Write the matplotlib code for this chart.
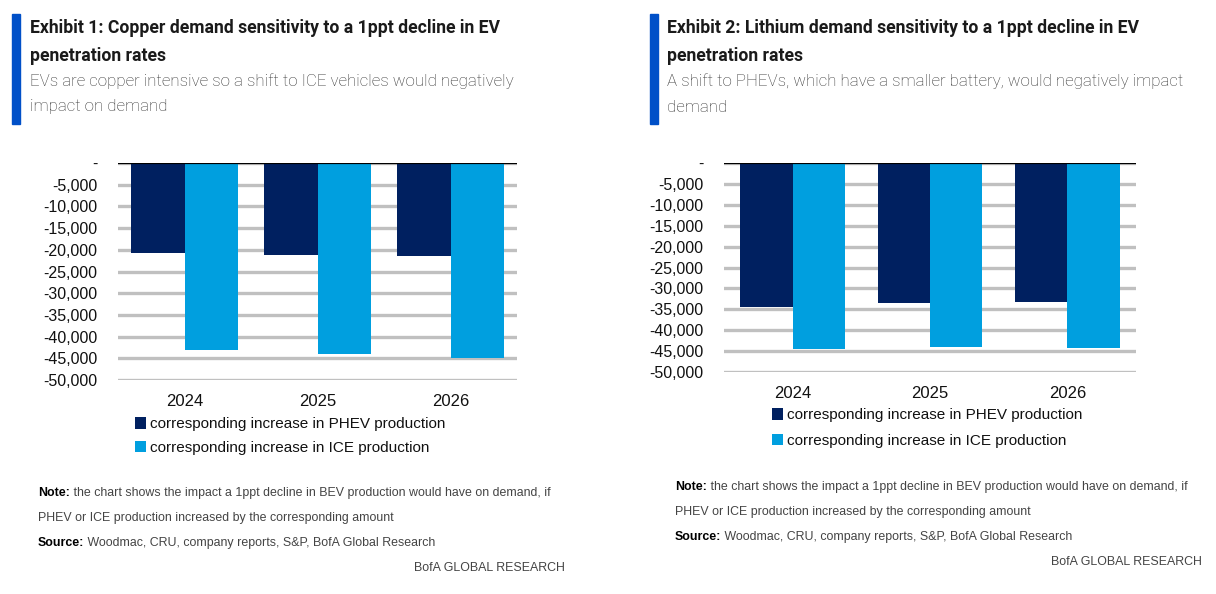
import matplotlib
matplotlib.use('Agg')
import matplotlib.pyplot as plt
from matplotlib.ticker import FuncFormatter
from matplotlib.patches import Rectangle

# ─── data ──────────────────────────────────────
years = ['2024', '2025', '2026']
series = ['corresponding increase in PHEV production',
          'corresponding increase in ICE production']
copper_phev = [-20700, -21100, -21500]
copper_ice = [-43200, -44000, -44900]
lithium_phev = [-34400, -33500, -33300]
lithium_ice = [-44500, -43900, -44200]
yticks = [0, -5000, -10000, -15000, -20000, -25000, -30000, -35000, -40000, -45000, -50000]

titles = [['Exhibit 1: Copper demand sensitivity to a 1ppt decline in EV', 'penetration rates'],
          ['Exhibit 2: Lithium demand sensitivity to a 1ppt decline in EV', 'penetration rates']]
subtitles = [['EVs are copper intensive so a shift to ICE vehicles would negatively', 'impact on demand'],
             ['A shift to PHEVs, which have a smaller battery, would negatively impact', 'demand']]
note_txt = ' the chart shows the impact a 1ppt decline in BEV production would have on demand, if'
note_txt2 = 'PHEV or ICE production increased by the corresponding amount'
source_txt = ' Woodmac, CRU, company reports, S&P, BofA Global Research'

NAVY = '#002060'
LIGHT = '#009FDF'
BAR_BLUE = '#0050C8'
NARROW = ['Liberation Sans', 'DejaVu Sans']
TITLEF = ['Roboto', 'DejaVu Sans']

W, H = 1216, 594
fig = plt.figure(figsize=(W / 100, H / 100), dpi=100)

def px(x0, y0, x1, y1):
    # pixel box (top-left origin) -> figure fraction
    return [x0 / W, 1 - y1 / H, (x1 - x0) / W, (y1 - y0) / H]

def fy(y):
    return 1 - y / H

def fmt(v, _):
    if v == 0:
        return '-'
    return f'{v:,.0f}'

def panel(box, phev, ice, barw, legend_xy, lspace):
    ax = fig.add_axes(px(*box))
    xs = range(len(years))
    ax.bar([x - barw / 2 for x in xs], phev, width=barw, color=NAVY, zorder=3, label=series[0])
    ax.bar([x + barw / 2 for x in xs], ice, width=barw, color=LIGHT, zorder=3, label=series[1])
    ax.set_xlim(-0.5, 2.5)
    ax.set_ylim(-50000, 0)
    ax.set_yticks(yticks)
    ax.yaxis.set_major_formatter(FuncFormatter(fmt))
    ax.grid(axis='y', color='#C0C0C0', lw=2.4, zorder=0)
    ax.axhline(0, color='black', lw=1.6, zorder=4)
    for s in ax.spines.values():
        s.set_visible(False)
    ax.tick_params(axis='y', length=0, pad=15, labelsize=11.5, labelcolor='#111111')
    ax.tick_params(axis='x', length=0, pad=10, labelsize=12, labelcolor='#111111')
    ax.set_xticks(list(xs))
    ax.set_xticklabels(years)
    for lab in ax.get_yticklabels() + ax.get_xticklabels():
        lab.set_family(NARROW)
    ax.legend(loc='upper left', bbox_to_anchor=(legend_xy[0] / W, fy(legend_xy[1])),
              bbox_transform=fig.transFigure, frameon=False, prop={'family': NARROW, 'size': 11},
              handlelength=0.7, handleheight=0.8, handletextpad=0.3, labelspacing=lspace,
              borderaxespad=0, borderpad=0, labelcolor='#111111')
    return ax

panel((118, 163, 517, 380), copper_phev, copper_ice, 0.4, (135, 417), 0.62)
panel((724, 163, 1136, 372), lithium_phev, lithium_ice, 0.38, (772, 408), 0.75)

for tx, i, ny, bx, barx in [(30, 0, 493, 565, 12), (667, 1, 487, 1202, 650)]:
    fig.patches.append(Rectangle((barx / W, fy(124)), 8 / W, 110 / H,
                                 transform=fig.transFigure, color=BAR_BLUE))
    for k, line in enumerate(titles[i]):
        fig.text(tx / W, fy(28 + 28 * k), line, ha='left', va='center', family=TITLEF,
                 fontweight='bold', fontsize=12.7, color='#1a1a1a')
    for k, line in enumerate(subtitles[i]):
        fig.text(tx / W, fy(81 + 26 * k), line, ha='left', va='center', family=TITLEF,
                 fontweight='light', fontsize=12.2, color='#333333')
    nx = tx + 8
    lab = fig.text(nx / W, fy(ny), 'Note:', ha='left', va='center', family=NARROW,
                   fontsize=8.9, fontweight='bold', color='black')
    plt.annotate(note_txt, xy=(1, 0.5), xycoords=lab, ha='left', va='center', family=NARROW,
                 fontsize=8.9, color='#444444', annotation_clip=False)
    fig.text(nx / W, fy(ny + 25), note_txt2, ha='left', va='center', family=NARROW,
             fontsize=8.9, color='#444444')
    lab2 = fig.text(nx / W, fy(ny + 50), 'Source:', ha='left', va='center', family=NARROW,
                    fontsize=8.9, fontweight='bold', color='black')
    plt.annotate(source_txt, xy=(1, 0.5), xycoords=lab2, ha='left', va='center', family=NARROW,
                 fontsize=8.9, color='#444444', annotation_clip=False)
    fig.text(bx / W, fy(ny + 75), 'BofA GLOBAL RESEARCH', ha='right', va='center',
             family=NARROW, fontsize=8.9, color='#444444')

fig.savefig('out.png', dpi=100)
